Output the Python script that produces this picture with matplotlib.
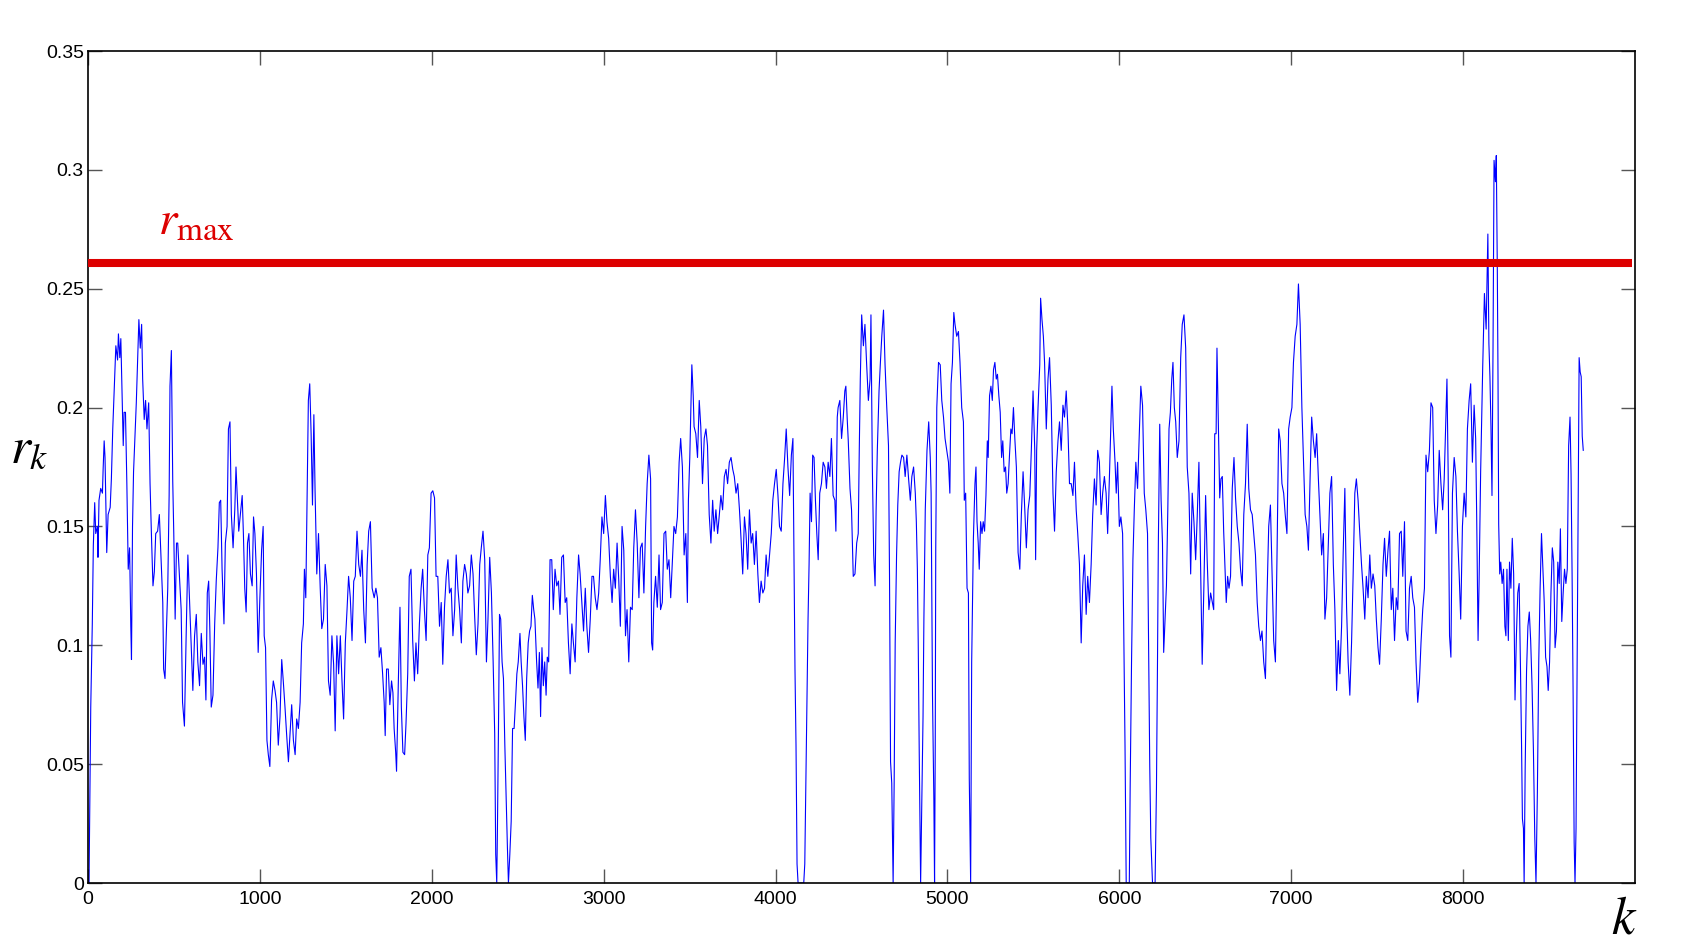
import numpy as np
import matplotlib
matplotlib.use('Agg')
import matplotlib.pyplot as plt
from matplotlib.ticker import FuncFormatter

plt.rcParams['font.family'] = ['Liberation Sans', 'DejaVu Sans']
plt.rcParams['mathtext.fontset'] = 'stix'

# (k, r_k) pairs, one list per stretch of k
seg_a = [(6, 0.0), (16, 0.074), (25, 0.109), (31, 0.142), (39, 0.160), (45, 0.147), (55, 0.150), (58, 0.137),
         (64, 0.161), (74, 0.166), (84, 0.164), (88, 0.174), (94, 0.186), (99, 0.179), (109, 0.139), (117, 0.155),
         (129, 0.158), (136, 0.170), (144, 0.191), (152, 0.207), (162, 0.226), (172, 0.220), (177, 0.231),
         (185, 0.221), (191, 0.229), (197, 0.209), (205, 0.184), (210, 0.198), (218, 0.198), (226, 0.168),
         (234, 0.132), (242, 0.141), (249, 0.108), (253, 0.094), (259, 0.150), (265, 0.173), (273, 0.187),
         (281, 0.202), (288, 0.218), (296, 0.237), (304, 0.225), (312, 0.235), (318, 0.212), (327, 0.195),
         (335, 0.203), (343, 0.191), (353, 0.202), (361, 0.168), (370, 0.144), (378, 0.125), (386, 0.131),
         (394, 0.147), (405, 0.148), (415, 0.155), (425, 0.136), (435, 0.118), (440, 0.090), (448, 0.086),
         (456, 0.106), (464, 0.124), (472, 0.163), (477, 0.209), (485, 0.224), (493, 0.169), (499, 0.147),
         (507, 0.111), (515, 0.143), (522, 0.143), (532, 0.129), (542, 0.115), (550, 0.076), (561, 0.066),
         (571, 0.104), (581, 0.138), (591, 0.118), (600, 0.101), (610, 0.081), (620, 0.104), (630, 0.113),
         (639, 0.093), (649, 0.083), (659, 0.105), (669, 0.092), (678, 0.095), (686, 0.077), (694, 0.122),
         (702, 0.127), (709, 0.106), (717, 0.074), (727, 0.079), (737, 0.109), (746, 0.127), (756, 0.141),
         (764, 0.160), (772, 0.161), (780, 0.132), (791, 0.109), (799, 0.143), (809, 0.150), (817, 0.191),
         (826, 0.194), (834, 0.155), (844, 0.141), (854, 0.157), (861, 0.175), (869, 0.161), (877, 0.148),
         (889, 0.157), (897, 0.163), (904, 0.147), (912, 0.124), (920, 0.114), (928, 0.143), (936, 0.147),
         (945, 0.130), (955, 0.125), (963, 0.154), (971, 0.147), (980, 0.130), (990, 0.097), (1000, 0.120),
         (1010, 0.140), (1019, 0.150), (1025, 0.104), (1033, 0.099), (1041, 0.060), (1049, 0.054),
         (1058, 0.049), (1068, 0.077), (1078, 0.085), (1088, 0.081), (1097, 0.076), (1107, 0.058),
         (1117, 0.070), (1127, 0.094), (1136, 0.085), (1146, 0.074), (1156, 0.062), (1166, 0.051),
         (1175, 0.062), (1185, 0.075), (1195, 0.060), (1205, 0.054), (1214, 0.069), (1224, 0.065),
         (1234, 0.076), (1243, 0.101), (1253, 0.109), (1259, 0.132), (1267, 0.120), (1275, 0.163),
         (1282, 0.203), (1290, 0.210), (1298, 0.189), (1306, 0.159), (1314, 0.197), (1321, 0.165),
         (1331, 0.130), (1341, 0.147), (1351, 0.124), (1360, 0.107), (1370, 0.111), (1380, 0.134),
         (1390, 0.125), (1399, 0.085), (1409, 0.079), (1419, 0.104), (1429, 0.092), (1438, 0.064),
         (1448, 0.104), (1458, 0.088), (1468, 0.104), (1477, 0.086), (1487, 0.069), (1497, 0.101),
         (1507, 0.115), (1516, 0.129), (1526, 0.120), (1536, 0.102), (1546, 0.127), (1555, 0.129),
         (1565, 0.148), (1575, 0.134), (1585, 0.129), (1594, 0.140), (1604, 0.115), (1614, 0.101),
         (1624, 0.134), (1633, 0.148), (1643, 0.152), (1653, 0.124)]

seg_b = [(1665, 0.120), (1675, 0.124), (1684, 0.120), (1694, 0.095), (1704, 0.099), (1714, 0.088),
         (1723, 0.076), (1729, 0.062), (1737, 0.090), (1747, 0.090), (1756, 0.075), (1766, 0.085),
         (1774, 0.080), (1781, 0.065), (1790, 0.055), (1795, 0.047), (1805, 0.083), (1815, 0.116),
         (1823, 0.074), (1832, 0.055), (1842, 0.054), (1850, 0.067), (1860, 0.088), (1869, 0.129),
         (1879, 0.132), (1889, 0.102), (1899, 0.085), (1908, 0.101), (1918, 0.088), (1928, 0.109),
         (1938, 0.124), (1947, 0.132), (1957, 0.115), (1967, 0.102), (1977, 0.138), (1986, 0.141),
         (1996, 0.164), (2006, 0.165), (2016, 0.162), (2025, 0.129), (2035, 0.129), (2045, 0.108),
         (2055, 0.118), (2064, 0.092), (2074, 0.116), (2084, 0.129), (2094, 0.136), (2103, 0.122),
         (2113, 0.124), (2123, 0.104), (2133, 0.115), (2142, 0.138), (2152, 0.124), (2162, 0.115),
         (2172, 0.101), (2181, 0.127), (2191, 0.134), (2201, 0.130), (2210, 0.122), (2220, 0.125),
         (2230, 0.138), (2240, 0.130), (2249, 0.113), (2259, 0.096), (2269, 0.109), (2279, 0.134),
         (2288, 0.141), (2298, 0.148), (2308, 0.136), (2318, 0.093), (2327, 0.111), (2337, 0.137),
         (2347, 0.122), (2357, 0.093), (2366, 0.063), (2372, 0.012), (2378, 0.0), (2382, 0.023),
         (2388, 0.065), (2394, 0.113), (2401, 0.111), (2409, 0.093), (2417, 0.086), (2425, 0.058),
         (2433, 0.035), (2440, 0.015), (2446, 0.0), (2454, 0.012), (2462, 0.026), (2470, 0.065),
         (2479, 0.065), (2487, 0.076), (2495, 0.088), (2503, 0.093), (2513, 0.105), (2520, 0.093),
         (2528, 0.083), (2536, 0.070), (2544, 0.060), (2552, 0.086), (2561, 0.101), (2569, 0.106),
         (2577, 0.108), (2585, 0.121), (2593, 0.115), (2600, 0.111), (2610, 0.093), (2618, 0.082),
         (2626, 0.097), (2633, 0.070), (2641, 0.099), (2649, 0.083), (2657, 0.093), (2665, 0.079),
         (2672, 0.095), (2680, 0.093), (2688, 0.136), (2698, 0.136), (2707, 0.115), (2717, 0.132),
         (2727, 0.125), (2737, 0.127), (2746, 0.113), (2756, 0.137), (2766, 0.138), (2776, 0.118),
         (2785, 0.120), (2795, 0.101), (2805, 0.088), (2815, 0.109), (2824, 0.101), (2834, 0.093),
         (2844, 0.120), (2854, 0.138), (2863, 0.130), (2873, 0.118), (2883, 0.106), (2893, 0.124),
         (2902, 0.108), (2912, 0.097), (2922, 0.111), (2932, 0.129), (2941, 0.129), (2951, 0.120),
         (2961, 0.115), (2971, 0.122), (2980, 0.136), (2990, 0.154), (3000, 0.147), (3010, 0.163),
         (3019, 0.152), (3029, 0.145), (3039, 0.129), (3049, 0.118), (3058, 0.132), (3068, 0.124),
         (3078, 0.143), (3088, 0.127), (3097, 0.108), (3107, 0.150), (3117, 0.140), (3127, 0.104),
         (3136, 0.115), (3146, 0.093), (3156, 0.116), (3166, 0.115), (3175, 0.141), (3185, 0.157),
         (3195, 0.143), (3205, 0.120), (3214, 0.141), (3224, 0.143), (3234, 0.122), (3244, 0.150),
         (3253, 0.168), (3263, 0.180), (3273, 0.170)]

seg_c = [(3279, 0.101), (3285, 0.098), (3292, 0.118), (3302, 0.129), (3312, 0.116), (3322, 0.138),
         (3331, 0.115), (3341, 0.118), (3351, 0.147), (3361, 0.148), (3370, 0.132), (3380, 0.136),
         (3390, 0.120), (3400, 0.136), (3409, 0.150), (3419, 0.147), (3429, 0.154), (3439, 0.177),
         (3448, 0.187), (3458, 0.175), (3468, 0.138), (3478, 0.147), (3487, 0.118), (3493, 0.161),
         (3501, 0.179), (3507, 0.198), (3513, 0.218), (3521, 0.205), (3526, 0.192), (3536, 0.189),
         (3546, 0.179), (3556, 0.203), (3565, 0.192), (3575, 0.168), (3585, 0.187), (3595, 0.191),
         (3604, 0.184), (3614, 0.155), (3624, 0.143), (3634, 0.161), (3643, 0.148), (3653, 0.157),
         (3663, 0.147), (3673, 0.155), (3682, 0.163), (3692, 0.157), (3702, 0.171), (3712, 0.174),
         (3721, 0.168), (3731, 0.177), (3741, 0.179), (3751, 0.174), (3760, 0.171), (3770, 0.164),
         (3780, 0.168), (3790, 0.157), (3799, 0.145), (3809, 0.130), (3819, 0.154), (3828, 0.147),
         (3838, 0.132), (3848, 0.157), (3858, 0.143), (3867, 0.147), (3877, 0.134), (3887, 0.148),
         (3897, 0.130), (3906, 0.118), (3916, 0.127), (3926, 0.122), (3936, 0.124), (3945, 0.138),
         (3955, 0.129), (3965, 0.138), (3975, 0.147), (3984, 0.161), (3994, 0.168), (4004, 0.174),
         (4014, 0.163), (4023, 0.150), (4033, 0.148), (4043, 0.168), (4053, 0.179), (4062, 0.191),
         (4072, 0.175), (4082, 0.163), (4092, 0.180), (4101, 0.187), (4107, 0.136), (4113, 0.090),
         (4119, 0.058), (4125, 0.008), (4131, 0.0), (4146, 0.0), (4164, 0.0), (4170, 0.008),
         (4179, 0.058), (4189, 0.111), (4195, 0.134), (4201, 0.164), (4209, 0.152), (4216, 0.180),
         (4224, 0.179), (4232, 0.161), (4240, 0.147), (4248, 0.136), (4257, 0.164), (4267, 0.168),
         (4277, 0.177), (4287, 0.175), (4296, 0.166), (4306, 0.177), (4316, 0.171), (4325, 0.187),
         (4335, 0.163), (4345, 0.161), (4351, 0.148), (4359, 0.196), (4364, 0.200), (4374, 0.203),
         (4384, 0.187), (4394, 0.196), (4403, 0.207), (4409, 0.209), (4417, 0.195), (4423, 0.186),
         (4433, 0.166), (4442, 0.157), (4452, 0.129), (4462, 0.130), (4472, 0.143), (4481, 0.147),
         (4487, 0.182), (4493, 0.212), (4501, 0.239), (4511, 0.226), (4520, 0.235), (4530, 0.218),
         (4540, 0.203), (4550, 0.212), (4555, 0.239), (4563, 0.175), (4571, 0.138), (4579, 0.125),
         (4585, 0.157), (4592, 0.182), (4602, 0.207), (4610, 0.219), (4618, 0.230), (4628, 0.241),
         (4637, 0.218), (4647, 0.200), (4657, 0.184), (4663, 0.129), (4669, 0.051), (4676, 0.042),
         (4684, 0.0), (4690, 0.042), (4696, 0.101), (4704, 0.138), (4711, 0.159), (4719, 0.173),
         (4727, 0.177), (4735, 0.180), (4745, 0.179), (4754, 0.171), (4764, 0.180), (4774, 0.170),
         (4784, 0.161), (4793, 0.171), (4803, 0.175), (4813, 0.164), (4819, 0.152), (4825, 0.132),
         (4830, 0.101), (4836, 0.054), (4844, 0.0), (4852, 0.040), (4858, 0.070), (4863, 0.111),
         (4871, 0.157), (4881, 0.182), (4891, 0.194), (4900, 0.179)]

seg_d = [(4905, 0.164), (4913, 0.079), (4921, 0.035), (4925, 0.0), (4929, 0.058), (4932, 0.141),
         (4938, 0.200), (4948, 0.219), (4958, 0.218), (4967, 0.203), (4977, 0.196), (4986, 0.187),
         (4996, 0.182), (5006, 0.177), (5014, 0.164), (5021, 0.210), (5029, 0.219), (5037, 0.240),
         (5044, 0.235), (5054, 0.230), (5064, 0.232), (5073, 0.219), (5083, 0.200), (5093, 0.194),
         (5098, 0.161), (5106, 0.164), (5114, 0.124), (5122, 0.122), (5127, 0.044), (5135, 0.0),
         (5141, 0.093), (5151, 0.145), (5160, 0.168), (5166, 0.175), (5172, 0.152), (5179, 0.143),
         (5185, 0.132), (5193, 0.152), (5201, 0.147), (5208, 0.152), (5216, 0.148), (5224, 0.163),
         (5232, 0.186), (5237, 0.179), (5245, 0.205), (5253, 0.209), (5261, 0.203), (5268, 0.216),
         (5276, 0.219), (5284, 0.212), (5291, 0.214), (5299, 0.205), (5307, 0.198), (5315, 0.179),
         (5322, 0.186), (5330, 0.173), (5338, 0.175), (5345, 0.164), (5353, 0.168), (5361, 0.180),
         (5369, 0.191), (5376, 0.189), (5384, 0.200), (5392, 0.187), (5401, 0.175), (5411, 0.139),
         (5421, 0.132), (5430, 0.155), (5440, 0.173), (5450, 0.157), (5459, 0.141), (5469, 0.157),
         (5479, 0.163), (5488, 0.182), (5498, 0.207), (5508, 0.182), (5513, 0.136), (5519, 0.182),
         (5527, 0.200), (5537, 0.218), (5542, 0.246), (5550, 0.237), (5558, 0.230), (5565, 0.219),
         (5575, 0.191), (5585, 0.212), (5594, 0.221), (5604, 0.201), (5614, 0.164), (5623, 0.148),
         (5633, 0.173), (5643, 0.186), (5652, 0.194), (5662, 0.182), (5672, 0.201), (5681, 0.196),
         (5691, 0.207), (5701, 0.191), (5710, 0.168), (5720, 0.168), (5730, 0.163), (5739, 0.177),
         (5749, 0.157), (5758, 0.147), (5768, 0.134), (5778, 0.101), (5787, 0.125), (5797, 0.138),
         (5807, 0.113), (5816, 0.129), (5826, 0.118), (5836, 0.134), (5845, 0.155), (5855, 0.170),
         (5865, 0.159), (5874, 0.182), (5884, 0.177), (5894, 0.155), (5903, 0.164), (5913, 0.171),
         (5923, 0.164), (5932, 0.147), (5942, 0.170), (5952, 0.196), (5957, 0.209), (5965, 0.191),
         (5975, 0.177), (5982, 0.164), (5990, 0.177), (6000, 0.150), (6009, 0.154), (6019, 0.147),
         (6025, 0.111), (6033, 0.058), (6040, 0.0), (6058, 0.0), (6063, 0.040), (6071, 0.093),
         (6079, 0.136), (6087, 0.157), (6096, 0.177), (6106, 0.166), (6116, 0.189), (6125, 0.209),
         (6135, 0.201), (6145, 0.164), (6154, 0.157), (6164, 0.147), (6170, 0.102), (6177, 0.049),
         (6183, 0.019), (6193, 0.0), (6208, 0.0), (6216, 0.040), (6222, 0.093), (6227, 0.143),
         (6235, 0.193), (6243, 0.161), (6251, 0.143), (6258, 0.097), (6266, 0.111), (6274, 0.125),
         (6282, 0.157), (6289, 0.191), (6297, 0.198), (6305, 0.212), (6312, 0.219), (6320, 0.200),
         (6328, 0.194), (6337, 0.179), (6347, 0.186), (6357, 0.221), (6366, 0.235), (6376, 0.239),
         (6386, 0.225), (6395, 0.175), (6405, 0.164), (6415, 0.130), (6424, 0.164), (6434, 0.152),
         (6444, 0.136), (6453, 0.154), (6463, 0.177), (6473, 0.132), (6482, 0.092), (6492, 0.125),
         (6502, 0.163), (6511, 0.136), (6521, 0.115), (6531, 0.122)]

seg_e = [(6549, 0.115), (6555, 0.189), (6563, 0.189), (6568, 0.225), (6576, 0.194), (6584, 0.162),
         (6591, 0.170), (6599, 0.171), (6607, 0.148), (6615, 0.132), (6622, 0.118), (6630, 0.129),
         (6638, 0.124), (6647, 0.129), (6657, 0.166), (6667, 0.179), (6676, 0.162), (6686, 0.150),
         (6696, 0.143), (6705, 0.132), (6715, 0.125), (6724, 0.155), (6734, 0.168), (6744, 0.193),
         (6753, 0.166), (6763, 0.157), (6773, 0.155), (6782, 0.147), (6792, 0.138), (6802, 0.118),
         (6811, 0.108), (6821, 0.102), (6830, 0.106), (6840, 0.093), (6850, 0.086), (6859, 0.120),
         (6869, 0.150), (6879, 0.159), (6888, 0.132), (6898, 0.102), (6908, 0.093), (6917, 0.136),
         (6927, 0.191), (6936, 0.186), (6946, 0.168), (6956, 0.164), (6965, 0.155), (6975, 0.147),
         (6985, 0.191), (6994, 0.196), (7004, 0.200), (7013, 0.219), (7023, 0.230), (7033, 0.235),
         (7042, 0.252), (7052, 0.235), (7062, 0.200), (7071, 0.179), (7081, 0.155), (7091, 0.150),
         (7100, 0.140), (7110, 0.171), (7119, 0.196), (7129, 0.186), (7139, 0.179), (7148, 0.189),
         (7158, 0.170), (7167, 0.155), (7177, 0.138), (7187, 0.147), (7196, 0.111), (7206, 0.120),
         (7216, 0.143), (7225, 0.164), (7235, 0.171), (7245, 0.134), (7254, 0.115), (7264, 0.081),
         (7274, 0.102), (7283, 0.088), (7293, 0.108), (7302, 0.138), (7312, 0.166), (7322, 0.116),
         (7331, 0.093), (7341, 0.079), (7351, 0.101), (7360, 0.129), (7370, 0.164), (7379, 0.170),
         (7389, 0.161), (7399, 0.147), (7409, 0.134), (7418, 0.124), (7428, 0.111), (7437, 0.129),
         (7447, 0.120), (7457, 0.138), (7466, 0.124), (7476, 0.130), (7486, 0.125), (7495, 0.111),
         (7505, 0.099), (7514, 0.092), (7524, 0.111), (7534, 0.134), (7543, 0.145), (7553, 0.129),
         (7563, 0.140), (7572, 0.148), (7582, 0.115), (7591, 0.124), (7601, 0.102), (7611, 0.120),
         (7620, 0.115), (7630, 0.147), (7640, 0.148), (7649, 0.129), (7659, 0.152), (7668, 0.106),
         (7678, 0.102), (7688, 0.124), (7698, 0.129), (7707, 0.120), (7717, 0.116), (7726, 0.093),
         (7736, 0.076), (7746, 0.085), (7755, 0.101), (7765, 0.115), (7775, 0.124), (7784, 0.180),
         (7794, 0.173), (7804, 0.182), (7813, 0.202), (7823, 0.200), (7832, 0.161), (7842, 0.147),
         (7852, 0.159), (7861, 0.182), (7871, 0.168), (7881, 0.157), (7890, 0.170), (7900, 0.196),
         (7906, 0.212), (7913, 0.173), (7921, 0.104), (7929, 0.095), (7938, 0.164), (7948, 0.179),
         (7958, 0.171), (7967, 0.148), (7977, 0.130), (7986, 0.111), (7996, 0.150), (8006, 0.164),
         (8016, 0.154), (8025, 0.191), (8035, 0.203), (8044, 0.210), (8054, 0.177), (8064, 0.201),
         (8073, 0.187), (8079, 0.154), (8087, 0.102), (8093, 0.127), (8102, 0.173)]

seg_f = [(8114, 0.217), (8124, 0.248), (8134, 0.233), (8144, 0.273), (8150, 0.227), (8156, 0.213),
         (8162, 0.192), (8168, 0.163), (8174, 0.225), (8180, 0.304), (8188, 0.295), (8193, 0.306),
         (8199, 0.258), (8203, 0.213), (8207, 0.151), (8213, 0.130), (8219, 0.135), (8227, 0.126),
         (8235, 0.132), (8243, 0.108), (8249, 0.104), (8255, 0.132), (8263, 0.102), (8270, 0.135),
         (8278, 0.124), (8286, 0.145), (8294, 0.130), (8302, 0.077), (8310, 0.104), (8318, 0.122),
         (8326, 0.126), (8334, 0.089), (8340, 0.058), (8345, 0.027), (8351, 0.023), (8355, 0.0),
         (8361, 0.048), (8369, 0.089), (8377, 0.108), (8385, 0.114), (8393, 0.102), (8401, 0.083),
         (8409, 0.056), (8417, 0.019), (8424, 0.0), (8432, 0.038), (8440, 0.093), (8448, 0.124),
         (8456, 0.147), (8464, 0.132), (8472, 0.118), (8480, 0.095), (8488, 0.091), (8495, 0.081),
         (8503, 0.093), (8511, 0.122), (8519, 0.141), (8527, 0.135), (8535, 0.099), (8543, 0.106),
         (8551, 0.135), (8559, 0.126), (8566, 0.149), (8574, 0.110), (8582, 0.122), (8590, 0.132),
         (8598, 0.126), (8606, 0.132), (8614, 0.184), (8622, 0.196), (8628, 0.172), (8634, 0.130),
         (8640, 0.079), (8646, 0.017), (8651, 0.0), (8657, 0.023), (8663, 0.089), (8669, 0.151),
         (8675, 0.221), (8681, 0.215), (8687, 0.213), (8693, 0.188), (8699, 0.182)]

r_max = 0.261
x_ticks = [0, 1000, 2000, 3000, 4000, 5000, 6000, 7000, 8000]
y_ticks = [0, 0.05, 0.1, 0.15, 0.2, 0.25, 0.3, 0.35]

pairs = seg_a + seg_b + seg_c + seg_d + seg_e + seg_f
k = np.array([p[0] for p in pairs])
r = np.array([p[1] for p in pairs])

fig = plt.figure(figsize=(16.88, 9.52), dpi=100)
ax = fig.add_axes([88 / 1688, 1 - 883 / 952, (1635 - 88) / 1688, (883 - 51) / 952])

ax.plot(k, r, color='#0000ff', lw=0.8)
ax.hlines(r_max, 0, 8985, color='#dd0000', lw=5.8, zorder=3)
ax.text(410, 0.2726, r'$r_{\mathrm{max}}$', color='#dd0000', fontsize=34, va='baseline', ha='left')

ax.set_xlim(0, 9000)
ax.set_ylim(0, 0.35)
ax.set_xticks(x_ticks)
ax.set_yticks(y_ticks)
ax.yaxis.set_major_formatter(FuncFormatter(lambda v, p: '%g' % v))
ax.tick_params(direction='in', top=True, right=True, length=10, width=1, color='#555555',
               labelsize=14, labelcolor='black')
ax.tick_params(axis='x', pad=6)
ax.tick_params(axis='y', pad=3)
for s in ax.spines.values():
    s.set_linewidth(1.2)
    s.set_color('black')

fig.text(10 / 1688, 1 - 450 / 952, r'$r_k$', fontsize=37, ha='left', va='center')
fig.text(1611 / 1688, 1 - 933 / 952, r'$k$', fontsize=38, ha='left', va='baseline')

fig.savefig('out.png', dpi=100)
